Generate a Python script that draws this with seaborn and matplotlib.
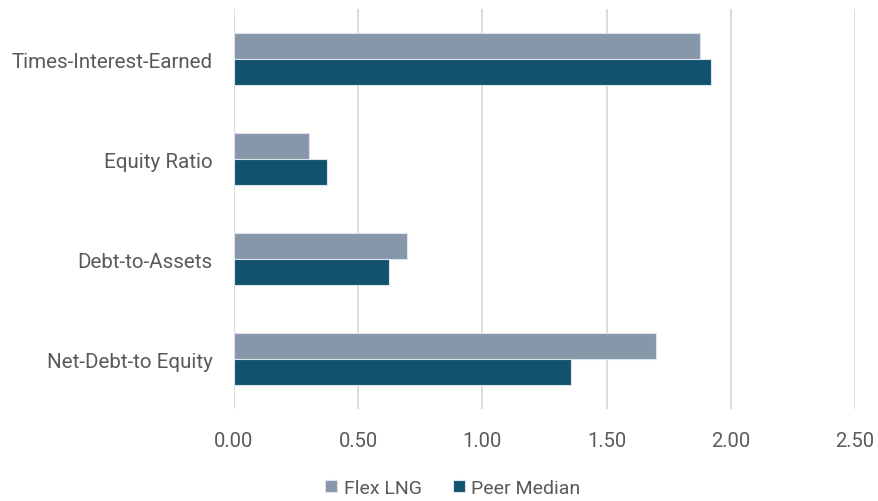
import matplotlib
matplotlib.use("Agg")
import matplotlib.pyplot as plt
import seaborn as sns
import pandas as pd

categories = ["Times-Interest-Earned", "Equity Ratio", "Debt-to-Assets", "Net-Debt-to Equity"]
flex_lng = [1.875, 0.30, 0.698, 1.70]
peer_median = [1.92, 0.373, 0.625, 1.358]
series_names = ["Flex LNG", "Peer Median"]
x_ticks = [0.0, 0.5, 1.0, 1.5, 2.0, 2.5]

df = pd.DataFrame({
    "metric": categories * 2,
    "value": flex_lng + peer_median,
    "series": [series_names[0]] * len(categories) + [series_names[1]] * len(categories),
})

sns.set_theme(style="white")
plt.rcParams["font.family"] = ["Roboto", "DejaVu Sans"]

fig = plt.figure(figsize=(8.79, 5.02), dpi=100)
ax = fig.add_axes([234 / 879, 1 - 410 / 502, (855 - 234) / 879, 400 / 502])

palette = {"Flex LNG": "#8597A9", "Peer Median": "#13526F"}
sns.barplot(data=df, y="metric", x="value", hue="series", order=categories,
            hue_order=series_names, palette=palette, orient="h", width=0.52,
            gap=0, saturation=1, edgecolor="#DCE3EA", linewidth=0.8, ax=ax,
            legend=True)

ax.set_xlim(0, 2.5)
ax.set_ylim(3.5, -0.5)
ax.set_xticks(x_ticks)
ax.set_xticklabels([f"{t:.2f}" for t in x_ticks])
ax.grid(axis="x", color="#D9D9D9", linewidth=1.3)
ax.set_axisbelow(True)
for s in ax.spines.values():
    s.set_visible(False)
ax.set_xlabel("")
ax.set_ylabel("")
ax.tick_params(axis="x", length=0, pad=16, labelsize=14.5, labelcolor="#595959")
ax.tick_params(axis="y", length=0, pad=15.5, labelsize=14.75, labelcolor="#595959")

handles, labels = ax.get_legend_handles_labels()
ax.legend(handles, labels, loc="center", bbox_to_anchor=(453 / 879, 1 - 489 / 502),
          bbox_transform=fig.transFigure, ncol=2, frameon=False, fontsize=14,
          labelcolor="#595959", handlelength=0.6, handleheight=0.6,
          handletextpad=0.35, columnspacing=1.6, borderaxespad=0, borderpad=0)

fig.savefig("out.png", dpi=100)
